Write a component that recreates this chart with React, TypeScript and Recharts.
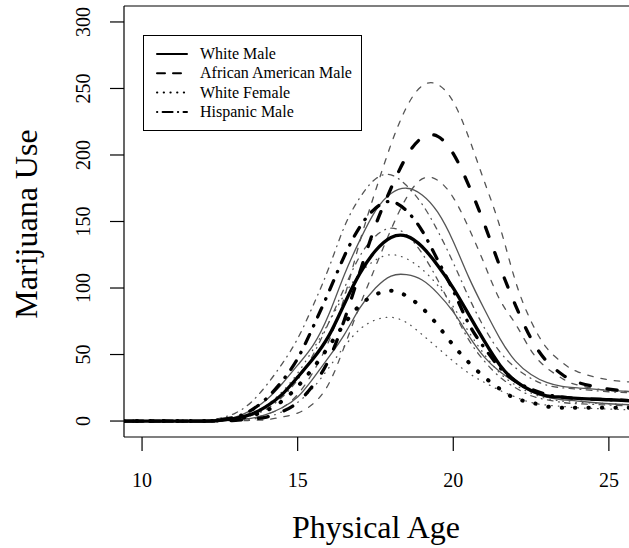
import React from "react";
import { LineChart, Line, XAxis, YAxis, ReferenceLine, Legend } from "recharts";

const ages = [9.4, 10, 11, 12, 12.5, 13, 13.5, 14, 14.5, 15, 15.5, 16, 16.5, 17, 17.5, 18, 18.5, 19, 19.5, 20, 20.5, 21, 21.5, 22, 22.5, 23, 23.5, 24, 25, 26];

const whiteMale = [0, 0, 0, 0, 0.5, 2, 5, 11, 20, 33, 47, 64, 88, 111, 128, 138, 139, 131, 117, 100, 80, 60, 42, 30, 23, 19, 18, 17, 16, 15];
const whiteMaleHi = [0, 0, 0, 0, 1, 3, 8, 16, 28, 42, 57, 80, 110, 136, 158, 171, 175, 170, 157, 135, 108, 84, 62, 45, 35, 29, 26, 25, 23, 22];
const whiteMaleLo = [0, 0, 0, 0, 0, 1, 2, 5, 10, 18, 32, 48, 65, 85, 100, 109, 110, 106, 96, 82, 64, 48, 37, 29, 22, 18, 16, 15, 13, 12];

const afAmMale = [0, 0, 0, 0, 0, 0.5, 1.5, 3, 7, 14, 27, 46, 76, 112, 147, 175, 199, 213, 214, 201, 177, 148, 116, 87, 62, 45, 35, 29, 24, 22];
const afAmMaleHi = [0, 0, 0, 0, 0, 1, 2, 5, 10, 20, 37, 60, 93, 135, 173, 208, 236, 252, 253, 240, 213, 180, 146, 105, 75, 55, 44, 37, 31, 29];
const afAmMaleLo = [0, 0, 0, 0, 0, 0, 0.5, 1, 3, 6, 13, 28, 56, 87, 116, 144, 168, 182, 181, 168, 145, 118, 91, 73, 53, 40, 32, 27, 23, 22];

const whiteFemale = [0, 0, 0, 0, 0.5, 1.5, 4, 8, 15, 26, 40, 56, 73, 87, 95, 98, 94, 85, 72, 57, 44, 33, 24, 17, 14, 11, 10, 10, 10, 10];
const whiteFemaleHi = [0, 0, 0, 0, 1, 2.5, 6, 12, 22, 36, 54, 74, 95, 111, 121, 125, 122, 114, 102, 86, 67, 50, 36, 27, 21, 17, 15, 14, 13, 12];
const whiteFemaleLo = [0, 0, 0, 0, 0, 0.5, 1.5, 3, 7, 14, 25, 40, 56, 69, 76, 78, 74, 65, 55, 45, 36, 29, 23, 18, 14, 12, 11, 10, 9, 8];

const hispMale = [0, 0, 0, 0, 1, 3, 8, 17, 30, 47, 71, 97, 124, 146, 160, 165, 158, 143, 121, 98, 73, 55, 40, 30, 24, 20, 18, 17, 16, 15];
const hispMaleHi = [0, 0, 0, 0, 2, 6, 14, 27, 43, 62, 87, 115, 146, 168, 182, 185, 177, 163, 143, 119, 93, 70, 52, 40, 32, 27, 25, 24, 22, 21];
const hispMaleLo = [0, 0, 0, 0, 0.5, 1.5, 4, 9, 18, 31, 50, 74, 100, 124, 139, 145, 140, 126, 106, 83, 61, 45, 33, 25, 19, 16, 14, 13, 12, 11];

const xTicks = [10, 15, 20, 25];
const yTicks = [0, 50, 100, 150, 200, 250, 300];
const legendLabels = ["White Male", "African American Male", "White Female", "Hispanic Male"];

const rows = ages.map((age, i) => ({
  age,
  wm: whiteMale[i], wmHi: whiteMaleHi[i], wmLo: whiteMaleLo[i],
  aa: afAmMale[i], aaHi: afAmMaleHi[i], aaLo: afAmMaleLo[i],
  wf: whiteFemale[i], wfHi: whiteFemaleHi[i], wfLo: whiteFemaleLo[i],
  hm: hispMale[i], hmHi: hispMaleHi[i], hmLo: hispMaleLo[i],
}));

const FONT = "'Liberation Serif', 'DejaVu Serif', serif";
const GRAY = "#555555";

const thickDash = ["", "10 17", "0.5 12.9", "0.5 9.5 10 9.5"];
const thickWidth = [3.3, 3.3, 4, 3.3];
const thinDash = ["", "5.5 7.9", "0.6 6", "0.8 5.5 5.5 5.5"];
const legendDash = ["", "8 8", "0.3 6.4", "0.3 5.3 10 5.3"];
const meanKeys = ["wm", "aa", "wf", "hm"];

const renderLegend = () => (
  <svg width={219} height={96} style={{ display: "block" }}>
    <rect x={0.5} y={0.5} width={218} height={95} fill="#fff" stroke="#000" strokeWidth={1} />
    {legendLabels.map((lab, i) => {
      const y = 19 + i * 19.3;
      return (
        <g key={lab}>
          <line x1={14} x2={44} y1={y} y2={y} stroke="#000" strokeWidth={2} strokeLinecap="round" strokeDasharray={legendDash[i] || undefined} />
          <text x={57} y={y + 5} fontFamily={FONT} fontSize={16} fill="#000">{lab}</text>
        </g>
      );
    })}
  </svg>
);

const yTick = (p: any) => (
  <text x={90} y={p.y} transform={`rotate(-90 90 ${p.y})`} textAnchor="middle" fontFamily={FONT} fontSize={20} fill="#000">
    {p.payload.value}
  </text>
);

const xTitle = () => (
  <text x={376} y={538} textAnchor="middle" fontFamily={FONT} fontSize={32} fill="#000">Physical Age</text>
);
const yTitle = () => (
  <text x={37} y={224} transform="rotate(-90 37 224)" textAnchor="middle" fontFamily={FONT} fontSize={32} fill="#000">Marijuana Use</text>
);

export default function App() {
  return (
    <div style={{ position: "absolute", left: 0, top: 0, width: 629, height: 548, overflow: "hidden", background: "#fff" }}>
      <LineChart width={660} height={548} data={rows} margin={{ top: 6, right: 20, bottom: 0, left: 0 }}>
        <XAxis
          dataKey="age"
          type="number"
          domain={[9.42, 26]}
          allowDataOverflow
          ticks={xTicks}
          height={111}
          tickSize={14}
          tickMargin={22}
          tick={{ fontFamily: FONT, fontSize: 20, fill: "#000" }}
          axisLine={{ stroke: "#000", strokeWidth: 1.2 }}
          tickLine={{ stroke: "#000", strokeWidth: 1.2 }}
          label={{ content: xTitle }}
        />
        <YAxis
          type="number"
          domain={[-12, 312]}
          allowDataOverflow
          ticks={yTicks}
          width={124}
          tickSize={14}
          tick={yTick}
          axisLine={{ stroke: "#000", strokeWidth: 1.2 }}
          tickLine={{ stroke: "#000", strokeWidth: 1.2 }}
          label={{ content: yTitle }}
        />
        <ReferenceLine y={312} stroke="#000" strokeWidth={1.2} ifOverflow="visible" />
        {meanKeys.map((k, i) => (
          <Line key={k + "Hi"} dataKey={k + "Hi"} type="natural" stroke={GRAY} strokeWidth={1.3} strokeLinecap="round"
            strokeDasharray={thinDash[i] || undefined} dot={false} activeDot={false} isAnimationActive={false} legendType="none" />
        ))}
        {meanKeys.map((k, i) => (
          <Line key={k + "Lo"} dataKey={k + "Lo"} type="natural" stroke={GRAY} strokeWidth={1.3} strokeLinecap="round"
            strokeDasharray={thinDash[i] || undefined} dot={false} activeDot={false} isAnimationActive={false} legendType="none" />
        ))}
        {meanKeys.map((k, i) => (
          <Line key={k} dataKey={k} name={legendLabels[i]} type="natural" stroke="#000" strokeWidth={thickWidth[i]} strokeLinecap="round"
            strokeDasharray={thickDash[i] || undefined} dot={false} activeDot={false} isAnimationActive={false} />
        ))}
        <Legend
          layout="horizontal"
          verticalAlign="middle"
          align="center"
          content={renderLegend}
          wrapperStyle={{ position: "absolute", left: 143, top: 35, width: 219, height: 96 }}
        />
      </LineChart>
    </div>
  );
}
